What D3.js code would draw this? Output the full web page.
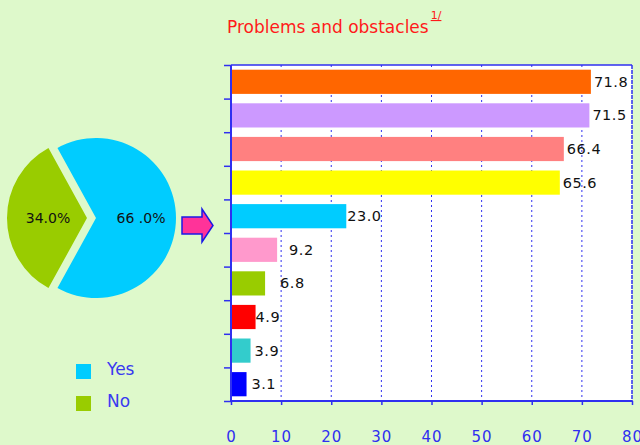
<!DOCTYPE html>
<html>
<head>
<meta charset="utf-8">
<script src="https://cdn.jsdelivr.net/npm/d3@7"></script>
<style>
  html, body { margin: 0; padding: 0; background: #DEF9CB; }
  svg { display: block; }
  text { font-family: "DejaVu Sans", Verdana, sans-serif; }
</style>
</head>
<body>
<svg id="chart" width="640" height="445"></svg>
<script>
// Pie: share of respondents reporting problems
const pieLabels = ["Yes", "No"];
const pieValues = [66.0, 34.0];
const pieColors = ["#00CCFF", "#99CC00"];

// Bars: percentage per problem, top to bottom
const barValues = [71.8, 71.5, 66.4, 65.6, 23.0, 9.2, 6.8, 4.9, 3.9, 3.1];
const barColors = ["#FF6600", "#CC99FF", "#FF8080", "#FFFF00", "#00CCFF",
                   "#FF99CC", "#99CC00", "#FF0000", "#33CCCC", "#0000FF"];
const xTicks = [0, 10, 20, 30, 40, 50, 60, 70, 80];

(function () {
const svg = d3.select("#chart");
const axisBlue = "#2F2FF0";

// ---------- pie ----------
const cx = 91.5, cy = 218, r = 80, explode = 4.5;
// "Yes" slice centred on the right, "No" on the left
const yesSpan = pieValues[0] / 100 * 2 * Math.PI;
const start = Math.PI / 2 - yesSpan / 2;
const arcs = d3.pie().sort(null).startAngle(start).endAngle(start + 2 * Math.PI)(pieValues);
const arc = d3.arc().innerRadius(0).outerRadius(r);
const pg = svg.append("g");
arcs.forEach((a, i) => {
  const mid = (a.startAngle + a.endAngle) / 2;
  const dx = Math.sin(mid) * explode, dy = -Math.cos(mid) * explode;
  const g = pg.append("g").attr("transform", `translate(${cx + dx},${cy + dy})`);
  g.append("path").attr("d", arc(a)).attr("fill", pieColors[i]);
  const lx = Math.sin(mid) * r * 0.6, ly = -Math.cos(mid) * r * 0.6;
  g.append("text")
    .attr("x", i === 0 ? lx - 3 : lx + 9).attr("y", ly)
    .attr("text-anchor", "middle").attr("dominant-baseline", "central")
    .attr("font-size", 14).attr("fill", "#111")
    .text(i === 0 ? "66 .0%" : d3.format(".1f")(pieValues[i]) + "%");
});

// ---------- legend ----------
pieLabels.forEach((lab, i) => {
  const ly = 364 + i * 32;
  svg.append("rect").attr("x", 76).attr("y", ly).attr("width", 15).attr("height", 15)
    .attr("fill", pieColors[i]);
  svg.append("text").attr("x", 107).attr("y", ly + 5)
    .attr("dominant-baseline", "central").attr("font-size", 17)
    .attr("fill", "#3A3AF0").text(lab);
});

// ---------- arrow ----------
svg.append("path")
  .attr("d", "M182,217 L202,217 L202,209 L213,225.5 L202,242 L202,234 L182,234 Z")
  .attr("fill", "#FF3399").attr("stroke", "#1A1AE6").attr("stroke-width", 1.5)
  .attr("stroke-linejoin", "miter");

// ---------- bar chart ----------
const pLeft = 231, pRight = 632, pTop = 65, pBottom = 401;
const x = d3.scaleLinear().domain([0, 80]).range([pLeft, pRight]);
const y = d3.scaleBand().domain(d3.range(barValues.length)).range([pTop, pBottom])
  .paddingInner(0.28).paddingOuter(0.14);

svg.append("rect").attr("x", pLeft).attr("y", pTop)
  .attr("width", pRight - pLeft).attr("height", pBottom - pTop).attr("fill", "#FFFFFF");

// dashed vertical gridlines
svg.append("g").selectAll("line").data(xTicks.slice(1, -1)).join("line")
  .attr("x1", d => x(d)).attr("x2", d => x(d))
  .attr("y1", pTop).attr("y2", pBottom)
  .attr("stroke", axisBlue).attr("stroke-width", 1).attr("stroke-dasharray", "2,3");

// bars
svg.append("g").selectAll("rect").data(barValues).join("rect")
  .attr("x", x(0)).attr("y", (d, i) => y(i))
  .attr("width", d => x(d) - x(0)).attr("height", y.bandwidth())
  .attr("fill", (d, i) => barColors[i]);

// value labels (small nudges keep them clear of the gridlines)
const labelShift = [3, 3, 3, 3, 1, 12, 15, 0, 4, 5];
svg.append("g").selectAll("text").data(barValues).join("text")
  .attr("x", (d, i) => x(d) + labelShift[i])
  .attr("y", (d, i) => y(i) + y.bandwidth() / 2)
  .attr("dominant-baseline", "central").attr("font-size", 14.5)
  .attr("letter-spacing", 0.5).attr("fill", "#111")
  .text(d => d3.format(".1f")(d));

// frame: top and right edges
svg.append("line").attr("x1", pLeft).attr("x2", pRight).attr("y1", pTop).attr("y2", pTop)
  .attr("stroke", axisBlue).attr("stroke-width", 1.5);
svg.append("line").attr("x1", pRight).attr("x2", pRight).attr("y1", pTop).attr("y2", pBottom)
  .attr("stroke", axisBlue).attr("stroke-width", 1.5).attr("stroke-dasharray", "4,1");

// x axis
const xAxis = d3.axisBottom(x).tickValues(xTicks).tickSize(4).tickPadding(26)
  .tickFormat(d3.format("d"));
const gx = svg.append("g").attr("transform", `translate(0,${pBottom})`).call(xAxis);
gx.select(".domain").attr("stroke", axisBlue).attr("stroke-width", 2)
  .attr("d", `M${pLeft},0H${pRight}`);
gx.selectAll(".tick line").attr("stroke", axisBlue).attr("stroke-width", 1.5);
gx.selectAll(".tick text").attr("fill", axisBlue).attr("font-size", 15)
  .attr("letter-spacing", 1)
  .attr("font-family", "\"DejaVu Sans\", Verdana, sans-serif");

// y axis: category separators only
const yAxisScale = d3.scaleLinear().domain([0, barValues.length]).range([pTop, pBottom]);
const yAxis = d3.axisLeft(yAxisScale).tickValues(d3.range(barValues.length + 1))
  .tickSize(7).tickFormat("");
const gy = svg.append("g").attr("transform", `translate(${pLeft},0)`).call(yAxis);
gy.select(".domain").attr("stroke", axisBlue).attr("stroke-width", 2)
  .attr("d", `M0,${pTop}V${pBottom}`);
gy.selectAll(".tick line").attr("stroke", axisBlue).attr("stroke-width", 1.5);

// ---------- title ----------
const title = svg.append("text").attr("x", 227).attr("y", 33)
  .attr("font-size", 17).attr("fill", "#FF1A1A");
title.append("tspan").text("Problems and obstacles");
title.append("tspan").attr("dx", 2).attr("dy", -14).attr("font-size", 11)
  .attr("text-decoration", "underline").text("1/");
})();
</script>
</body>
</html>
